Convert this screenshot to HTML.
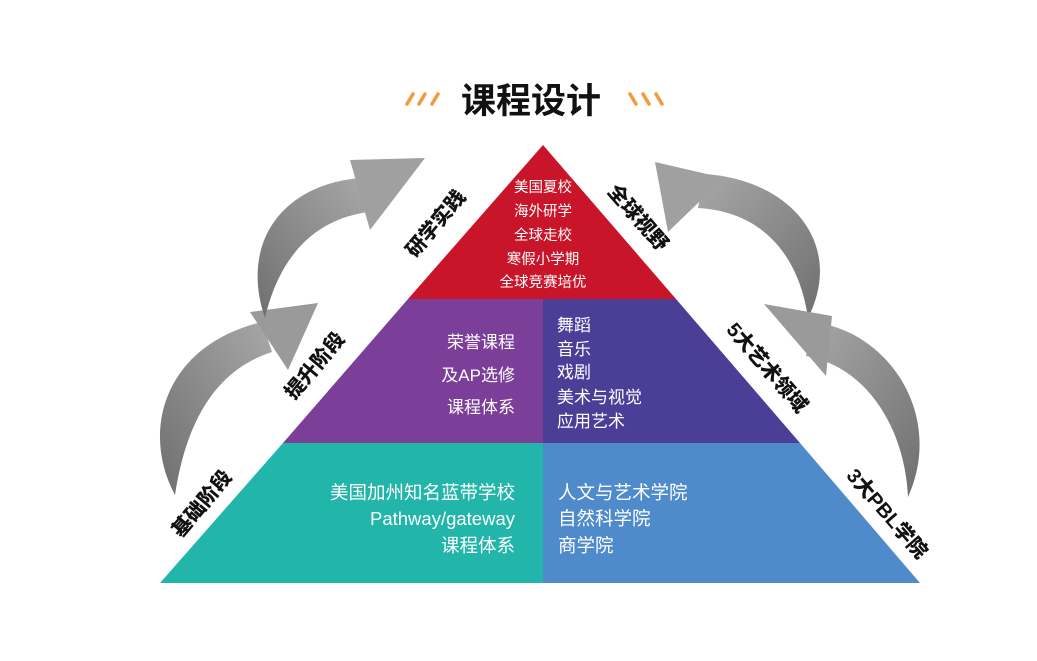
<!DOCTYPE html>
<html><head><meta charset="utf-8">
<style>
html,body{margin:0;padding:0;background:#fff;}
svg{display:block;}
text{font-family:"Liberation Sans","Noto Sans CJK SC",sans-serif;}
.lab{font-family:"Liberation Sans","Noto Sans CJK SC",sans-serif;font-weight:900;font-size:20px;fill:#111;}
</style></head><body>
<svg width="1037" height="661" viewBox="0 0 1037 661" xmlns="http://www.w3.org/2000/svg">
<defs>
<linearGradient id="g1" x1="0" y1="1" x2="1" y2="0"><stop offset="0" stop-color="#6f6f6f"/><stop offset="1" stop-color="#a8a8a8"/></linearGradient>
<linearGradient id="g2" x1="1" y1="1" x2="0" y2="0"><stop offset="0" stop-color="#6f6f6f"/><stop offset="1" stop-color="#a8a8a8"/></linearGradient>
</defs>
<text x="531" y="113" text-anchor="middle" font-size="35" font-weight="bold" fill="#111">课程设计</text>
<g stroke="#f39a3c" stroke-width="3.5" stroke-linecap="round">
<line x1="407" y1="104" x2="413" y2="94"/><line x1="419" y1="104" x2="425" y2="94"/><line x1="432" y1="104" x2="438" y2="94"/>
<line x1="630" y1="94" x2="636" y2="104"/><line x1="643" y1="94" x2="649" y2="104"/><line x1="656" y1="94" x2="662" y2="104"/>
</g>
<polygon points="543,145 408,299 676,299" fill="#c8152a"/>
<polygon points="408,299 543,299 543,443 283,443" fill="#7c3f99"/>
<polygon points="543,299 676,299 800,443 543,443" fill="#4a3e97"/>
<polygon points="283,443 543,443 543,583 160,583" fill="#22b5aa"/>
<polygon points="543,443 800,443 920,583 543,583" fill="#4f8bcb"/>
<g fill="#fff" font-size="14.5" text-anchor="middle">
<text x="543" y="192">美国夏校</text>
<text x="543" y="216">海外研学</text>
<text x="543" y="240">全球走校</text>
<text x="543" y="264">寒假小学期</text>
<text x="543" y="287">全球竞赛培优</text>
</g>
<g fill="#fff" font-size="17" text-anchor="end">
<text x="515" y="348">荣誉课程</text>
<text x="515" y="381">及AP选修</text>
<text x="515" y="413">课程体系</text>
</g>
<g fill="#fff" font-size="17">
<text x="557" y="331">舞蹈</text>
<text x="557" y="355">音乐</text>
<text x="557" y="378">戏剧</text>
<text x="557" y="403">美术与视觉</text>
<text x="557" y="427">应用艺术</text>
</g>
<g fill="#fff" font-size="18.5" text-anchor="end">
<text x="515" y="499">美国加州知名蓝带学校</text>
<text x="515" y="525">Pathway/gateway</text>
<text x="515" y="552">课程体系</text>
</g>
<g fill="#fff" font-size="18.5">
<text x="558" y="499">人文与艺术学院</text>
<text x="558" y="525">自然科学院</text>
<text x="558" y="552">商学院</text>
</g>
<!-- arrows left -->
<path d="M175,495 C140,430 165,345 262,322 L272,352 C210,372 185,430 175,495 Z" fill="url(#g1)"/>
<polygon points="250,312 318,303 288,370" fill="#9a9a9a"/>
<path d="M265,318 C240,245 280,185 360,178 L368,212 C310,220 278,262 265,318 Z" fill="url(#g1)"/>
<polygon points="350,160 425,158 370,230" fill="#a0a0a0"/>
<!-- arrows right -->
<path d="M808,318 C845,245 792,180 705,174 L698,208 C768,212 800,262 808,318 Z" fill="url(#g2)"/>
<polygon points="655,162 724,178 668,232" fill="#a0a0a0"/>
<path d="M908,497 C945,415 888,330 812,322 L806,356 C868,367 905,430 908,497 Z" fill="url(#g2)"/>
<polygon points="764,304 832,316 826,376" fill="#9a9a9a"/>
<text class="lab" text-anchor="middle" transform="translate(441,228) rotate(-50)">研学实践</text>
<text class="lab" text-anchor="middle" transform="translate(320,370) rotate(-50)">提升阶段</text>
<text class="lab" text-anchor="middle" transform="translate(207,508) rotate(-50)">基础阶段</text>
<text class="lab" text-anchor="middle" transform="translate(633,222) rotate(49)">全球视野</text>
<text class="lab" text-anchor="middle" transform="translate(762,372) rotate(49)">5大艺术领域</text>
<text class="lab" text-anchor="middle" transform="translate(882,518) rotate(49)">3大PBL学院</text>
</svg>
</body></html>
